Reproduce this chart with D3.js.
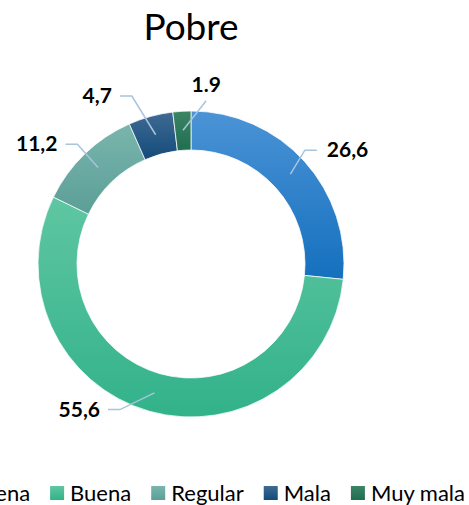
<!DOCTYPE html>
<html>
<head>
<meta charset="utf-8">
<script src="https://cdn.jsdelivr.net/npm/d3@7"></script>
<style>
  html, body { margin: 0; padding: 0; background: #fff; overflow: hidden; }
  text { font-family: Lato, "Open Sans", sans-serif; }
</style>
</head>
<body>
<svg id="chart" width="469" height="505"></svg>
<script>
// data
const categories = ['Muy buena', 'Buena', 'Regular', 'Mala', 'Muy mala'];
const values = [26.6, 55.6, 11.2, 4.7, 1.9];
const labels = ['26,6', '55,6', '11,2', '4,7', '1.9'];
const colorTop = ['#4b93d6', '#5fc6a2', '#79b5ad', '#3f6a94', '#3c8466'];
const colorBottom = ['#1570be', '#32b28a', '#5b9f97', '#144b7a', '#1f6e50'];

// leader elbow placement: angle (deg) and radius per label, and which side the text goes
const labelAngle = [45, 206, 316.5, 340.6, 5.3];
const labelRadius = [161, 162, 165, 178, 164];
const labelSide = ['right', 'left', 'left', 'left', 'top'];

const svg = d3.select('#chart');
const cx = 191, cy = 264;
const outerR = 153, innerR = 114;

const defs = svg.append('defs');
categories.forEach((c, i) => {
  const g = defs.append('linearGradient')
    .attr('id', 'grad' + i)
    .attr('x1', 0).attr('y1', 0).attr('x2', 0).attr('y2', 1);
  g.append('stop').attr('offset', '0%').attr('stop-color', colorTop[i]);
  g.append('stop').attr('offset', '100%').attr('stop-color', colorBottom[i]);
});

// title
svg.append('text')
  .attr('x', cx).attr('y', 40)
  .attr('text-anchor', 'middle')
  .style('font-size', '37px')
  .style('fill', '#000')
  .text('Pobre');

const pie = d3.pie().sort(null).value(d => d);
const arcs = pie(values);
const arc = d3.arc().innerRadius(innerR).outerRadius(outerR);

const g = svg.append('g').attr('transform', `translate(${cx},${cy})`);

g.selectAll('path.slice')
  .data(arcs)
  .join('path')
  .attr('class', 'slice')
  .attr('d', arc)
  .attr('fill', (d, i) => `url(#grad${i})`)
  .attr('stroke', '#fff')
  .attr('stroke-width', 0.75);

// leader lines + labels
const polar = (deg, r) => {
  const a = deg * Math.PI / 180;
  return [r * Math.sin(a), -r * Math.cos(a)];
};
const midArc = d3.arc().innerRadius(134).outerRadius(134);

arcs.forEach((d, i) => {
  const p0 = midArc.centroid(d);
  const p1 = polar(labelAngle[i], labelRadius[i]);
  let pts, tx, ty, anchor;
  if (labelSide[i] === 'right') {
    const p2 = [p1[0] + 12, p1[1]];
    pts = [p0, p1, p2];
    tx = p2[0] + 10; ty = p2[1] + 7; anchor = 'start';
  } else if (labelSide[i] === 'left') {
    const p2 = [p1[0] - 12, p1[1]];
    pts = [p0, p1, p2];
    tx = p2[0] - 8; ty = p2[1] + 7; anchor = 'end';
  } else {
    pts = [p0, p1];
    tx = p1[0]; ty = p1[1] - 9; anchor = 'middle';
  }
  g.append('path')
    .attr('d', d3.line()(pts))
    .attr('fill', 'none')
    .attr('stroke', '#a9c4db')
    .attr('stroke-width', 1.5);
  g.append('text')
    .attr('x', tx).attr('y', ty)
    .attr('text-anchor', anchor)
    .style('font-size', '21px')
    .style('font-weight', 'bold')
    .style('fill', '#000')
    .text(labels[i]);
});

// legend (wider than the chart, so its first entry runs off the left edge)
const legend = svg.append('g');
const box = 14, gapText = 6, gapItem = 20;
let x = 0;
categories.forEach((c, i) => {
  const it = legend.append('g');
  it.append('rect')
    .attr('x', 0).attr('y', -15)
    .attr('width', box).attr('height', box)
    .attr('fill', `url(#grad${i})`);
  const t = it.append('text')
    .attr('x', box + gapText).attr('y', 0)
    .style('font-size', '22px')
    .style('fill', '#000')
    .text(c);
  const w = box + gapText + t.node().getComputedTextLength();
  it.attr('transform', `translate(${x},0)`);
  x += w + gapItem;
});
const totalW = x - gapItem;
legend.attr('transform', `translate(${465 - totalW},501)`);
</script>
</body>
</html>
